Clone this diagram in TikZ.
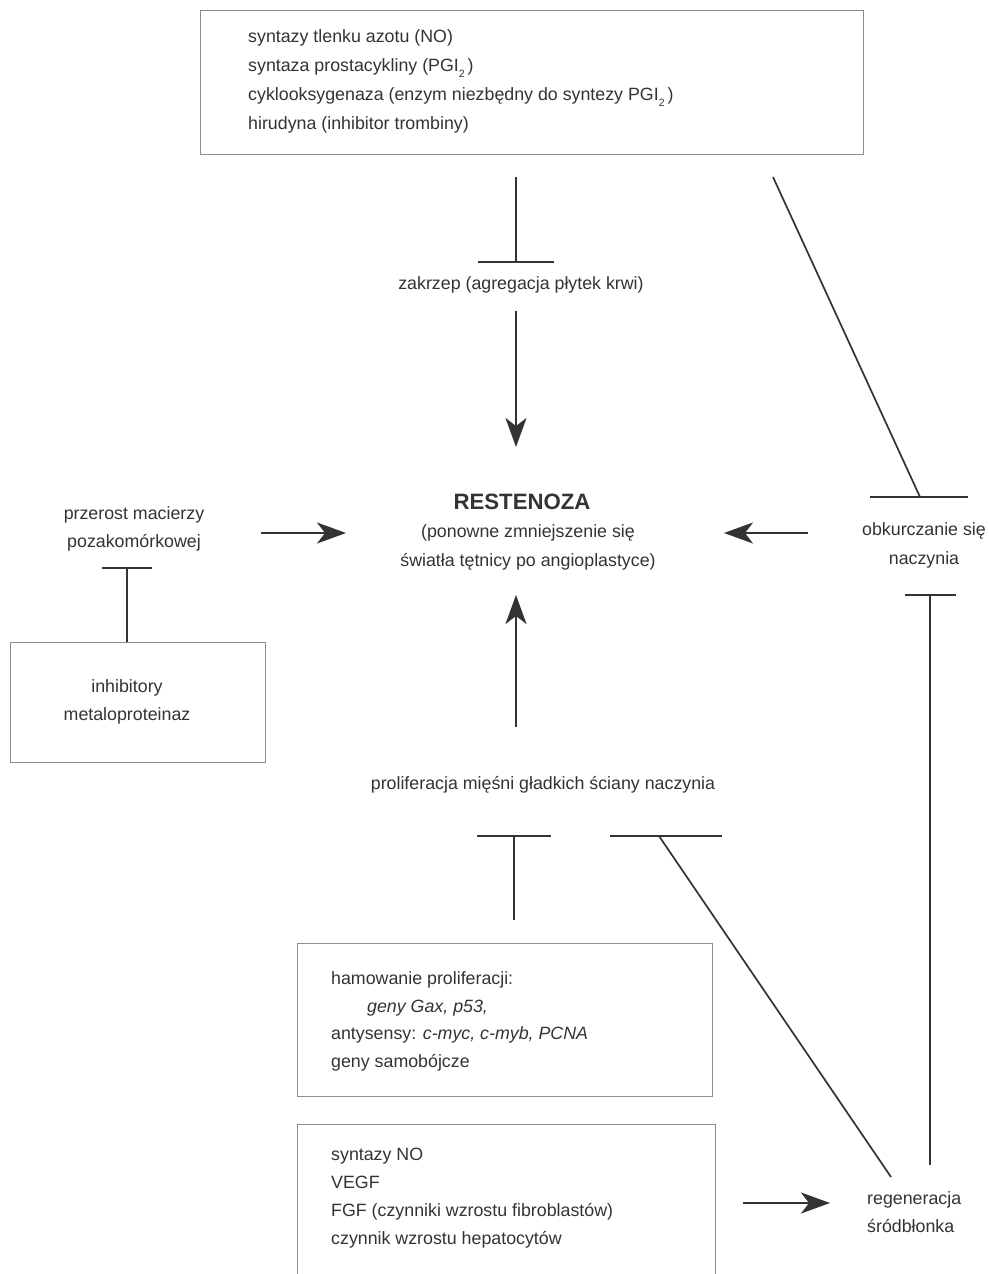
\documentclass[tikz,border=0pt]{standalone}
\usepackage{fontspec}
\setmainfont{Liberation Sans}
\usetikzlibrary{arrows.meta}
\definecolor{ink}{HTML}{333333}
\definecolor{frame}{HTML}{8C8C8C}
\newcommand{\subtwo}{\raisebox{-0.32em}{\fontsize{10.5}{10.5}\selectfont 2}}
\begin{document}
\begin{tikzpicture}[x=1pt,y=-1pt,
  lbl/.style={text=ink, font=\fontsize{17.8}{28}\selectfont, align=center, inner sep=0pt},
  lbll/.style={lbl, align=left, anchor=west},
  boxed/.style={draw=frame, line width=1pt, inner sep=0pt},
  link/.style={draw=ink, line width=1.7pt},
  arr/.style={link, -{Stealth[length=29pt,width=21pt,inset=8pt]}}]
\useasboundingbox (0,0) rectangle (988,1274);
\fill[white] (0,0) rectangle (988,1274);
\clip (0,0) rectangle (988,1274);

% boxes
\node[boxed, minimum width=663pt, minimum height=144pt] (topbox) at (532,82) {};
\node[lbll, font=\fontsize{17.8}{29}\selectfont] (toptext) at (248,81.5) {syntazy tlenku azotu (NO)\\
syntaza prostacykliny (PGI\subtwo\,)\\
cyklooksygenaza (enzym niezbędny do syntezy PGI\subtwo\,)\\
hirudyna (inhibitor trombiny)};

\node[boxed, minimum width=255pt, minimum height=120pt] (leftbox) at (137.5,702) {};
\node[lbl] (lefttext) at (127,702) {inhibitory\\metaloproteinaz};

\node[boxed, minimum width=415pt, minimum height=153pt] (genbox) at (504.5,1019.5) {};
\node[lbll, font=\fontsize{17.8}{27.7}\selectfont] (gentext) at (331,1021.5) {hamowanie proliferacji:\\
\hspace*{36pt}\textit{geny Gax, p53,}\\
antysensy: \textit{c-myc, c-myb, PCNA}\\
geny samobójcze};

\node[boxed, minimum width=418pt, minimum height=170pt] (growbox) at (506,1209) {};
\node[lbll] (growtext) at (331,1198) {syntazy NO\\
VEGF\\
FGF (czynniki wzrostu fibroblastów)\\
czynnik wzrostu hepatocytów};

% labels
\node[lbl] (zakrzep) at (521,285) {zakrzep (agregacja płytek krwi)};
\node[lbl, font=\fontsize{22.2}{26}\bfseries] (rest) at (522,502) {RESTENOZA};
\node[lbl, font=\fontsize{17.8}{29}\selectfont] (restsub) at (528,547.5) {(ponowne zmniejszenie się\\światła tętnicy po angioplastyce)};
\node[lbl] (przerost) at (134,529) {przerost macierzy\\pozakomórkowej};
\node[lbl, font=\fontsize{17.8}{29}\selectfont] (obkurcz) at (924,545) {obkurczanie się\\naczynia};
\node[lbl] (prolif) at (543,785) {proliferacja mięśni gładkich ściany naczynia};
\node[lbll] (regen) at (867,1212) {regeneracja\\śródbłonka};

% coordinates for connectors
\coordinate (a1) at (516,177);
\coordinate (a2) at (516,262);
\coordinate (a2l) at (478,262);
\coordinate (a2r) at (554,262);
\coordinate (b1) at (516,311);
\coordinate (b2) at (516,447);
\coordinate (c1) at (773,177);
\coordinate (c2) at (920,497);
\coordinate (c2l) at (870,497);
\coordinate (c2r) at (968,497);
\coordinate (d1) at (808,533);
\coordinate (d2) at (724,533);
\coordinate (e1) at (261,533);
\coordinate (e2) at (346,533);
\coordinate (f1) at (127,568);
\coordinate (f1l) at (102,568);
\coordinate (f1r) at (152,568);
\coordinate (g1) at (516,727);
\coordinate (g2) at (516,595);
\coordinate (h1) at (514,920);
\coordinate (h2) at (514,836);
\coordinate (h2l) at (477,836);
\coordinate (h2r) at (551,836);
\coordinate (i1) at (891,1177);
\coordinate (i2) at (659,836);
\coordinate (i2l) at (610,836);
\coordinate (i2r) at (722,836);
\coordinate (j1) at (930,1165);
\coordinate (j2) at (930,595);
\coordinate (j2l) at (905,595);
\coordinate (j2r) at (956,595);
\coordinate (k1) at (743,1203);
\coordinate (k2) at (830,1203);

% inhibitions (T-bars)
\draw[link] (a1) -- (a2);
\draw[link] (a2l) -- (a2r);
\draw[link] (c1) -- (c2);
\draw[link] (c2l) -- (c2r);
\draw[link] (leftbox.north -| f1) -- (f1);
\draw[link] (f1l) -- (f1r);
\draw[link] (h1) -- (h2);
\draw[link] (h2l) -- (h2r);
\draw[link] (i1) -- (i2);
\draw[link] (i2l) -- (i2r);
\draw[link] (j1) -- (j2);
\draw[link] (j2l) -- (j2r);

% activations (arrows)
\draw[arr] (b1) -- (b2);
\draw[arr] (d1) -- (d2);
\draw[arr] (e1) -- (e2);
\draw[arr] (g1) -- (g2);
\draw[arr] (k1) -- (k2);
\end{tikzpicture}
\end{document}
